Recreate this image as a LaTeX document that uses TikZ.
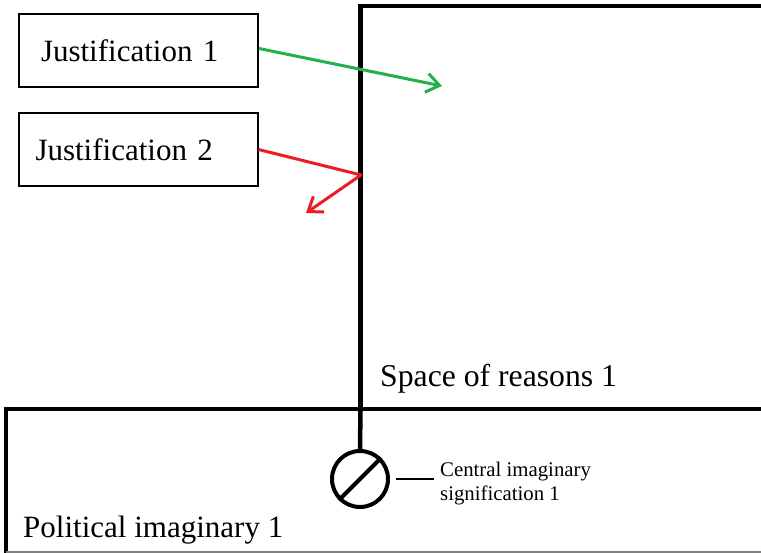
\documentclass[tikz,border=0pt]{standalone}
\usepackage{fontspec}
\setmainfont{Liberation Serif}
\usetikzlibrary{arrows.meta,positioning}
\definecolor{jgreen}{RGB}{34,177,76}
\definecolor{jred}{RGB}{237,28,36}

\begin{document}
\begin{tikzpicture}[x=1pt, y=-1pt,
	jbox/.style={draw, line width=2pt, minimum height=73pt, text width=205pt, inner xsep=17pt, align=left, font=\fontsize{31}{36}\selectfont},
	region/.style={line width=4.5pt},
	label/.style={font=\fontsize{31}{36}\selectfont, inner sep=0pt, anchor=base west},
	tip/.style={-{Straight Barb[length=13pt, width=19pt]}, line width=3pt}]
	\useasboundingbox (0,0) rectangle (761,553);

	\node (j1) [jbox, inner xsep=22pt, text width=195pt] at (138.5,50.5) {Justification 1};
	\node (j2) [jbox] at (138,149.5) {Justification 2};
	\node (sr) [label, font=\fontsize{31.7}{36}\selectfont] at (380,387) {Space of reasons 1};
	\node (pi) [label] at (23,537) {Political imaginary 1};
	\node (csig) [draw, circle, line width=4pt, minimum size=56pt, inner sep=0pt] at (360,479) {};
	\node (cimg) [anchor=west, inner sep=0pt, align=left, font=\fontsize{20.8}{24}\selectfont] at (440,484) {Central imaginary\\signification 1};
	\coordinate (g1) at (442,86);
	\coordinate (bend) at (361,175);
	\coordinate (r1) at (306,213);

	\draw[region] (761,6) -- (360.5,6) -- (360.5,409);
	\draw[region] (360.5,409) -- (csig.north);
	\draw[line width=4pt] (6,553) -- (6,409) -- (761,409);
	\draw[line width=1.5pt, gray] (6,552) -- (761,552);
	\draw[line width=4pt] (csig.225) -- (csig.45);
	\draw[line width=2pt] ([xshift=6pt]csig.east) -- ([xshift=-6pt]csig.east -| cimg.west);

	\draw[tip, jgreen] ([yshift=2pt]j1.east) -- (g1);
	\draw[tip, jred, line join=round] (j2.east) -- (bend) -- (r1);
\end{tikzpicture}
\end{document}
